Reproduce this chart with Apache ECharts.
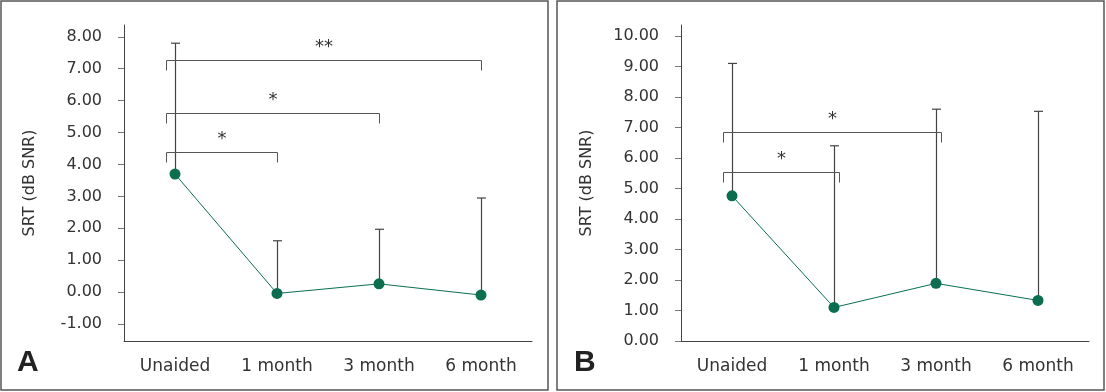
<!DOCTYPE html>
<html>
<head>
<meta charset="utf-8">
<script src="https://cdn.jsdelivr.net/npm/echarts@6/dist/echarts.min.js"></script>
<style>
  html, body { margin: 0; padding: 0; background: #fff; }
  #chart { width: 1106px; height: 392px; }
</style>
</head>
<body>
<div id="chart"></div>
<script>
// ---- data ----
const categories = ['Unaided', '1 month', '3 month', '6 month'];
const meanA  = [3.70, -0.04, 0.26, -0.09];
const upperA = [7.80, 1.61, 1.97, 2.95];
const meanB  = [4.76, 1.10, 1.89, 1.33];
const upperB = [9.10, 6.40, 7.60, 7.53];
const ticksA = [-1, 0, 1, 2, 3, 4, 5, 6, 7, 8];
const ticksB = [0, 1, 2, 3, 4, 5, 6, 7, 8, 9, 10];
// [fromCategory, toCategory, height, label]
const bracketsA = [[0, 1, 4.38, '*'], [0, 2, 5.60, '*'], [0, 3, 7.27, '**']];
const bracketsB = [[0, 1, 5.55, '*'], [0, 2, 6.85, '*']];
const panelLabels = ['A', 'B'];
const yName = 'SRT (dB SNR)';

// ---- styles ----
const FONT = 'DejaVu Sans';
const GREEN = '#0b6e4f';
const AXIS = '#444';
const TEXT = '#333';

const chart = echarts.init(document.getElementById('chart'), null, { renderer: 'canvas' });

function yAxisCfg(idx, min, max, ticks) {
  return {
    type: 'value', gridIndex: idx, min: min, max: max,
    name: yName, nameLocation: 'middle', nameGap: 86,
    nameTextStyle: { fontFamily: FONT, fontSize: 16, color: TEXT },
    axisLine: { show: true, lineStyle: { color: AXIS, width: 1 } },
    axisTick: { show: true, length: 6, customValues: ticks, lineStyle: { color: '#777' } },
    axisLabel: { customValues: ticks, margin: 22, fontFamily: FONT, fontSize: 16, color: TEXT,
      formatter: v => v.toFixed(2) },
    splitLine: { show: false }
  };
}
function xAxisCfg(idx) {
  return {
    type: 'category', gridIndex: idx, data: categories, boundaryGap: true,
    axisLine: { show: true, onZero: false, lineStyle: { color: AXIS, width: 1 } },
    axisTick: { show: false },
    axisLabel: { margin: 17, fontFamily: FONT, fontSize: 17, color: TEXT }
  };
}

function errorSeries(idx, mean, upper) {
  return {
    type: 'custom', xAxisIndex: idx, yAxisIndex: idx, z: 2,
    data: categories.map((c, i) => [i, mean[i], upper[i]]),
    renderItem: (params, api) => {
      const p0 = api.coord([api.value(0), api.value(1)]);
      const p1 = api.coord([api.value(0), api.value(2)]);
      const x = Math.round(p0[0]) + 0.5;
      return { type: 'group', children: [
        { type: 'line', shape: { x1: x, y1: p0[1], x2: x, y2: p1[1] }, style: { stroke: '#444', lineWidth: 1.2 } },
        { type: 'line', shape: { x1: x - 4.5, y1: p1[1], x2: x + 4.5, y2: p1[1] }, style: { stroke: '#444', lineWidth: 1.2 } }
      ]};
    }
  };
}

function bracketSeries(idx, brackets, rightOff) {
  return {
    type: 'custom', xAxisIndex: idx, yAxisIndex: idx, z: 3,
    data: brackets.map(b => [b[0], b[1], b[2], b[3]]),
    renderItem: (params, api) => {
      const b = brackets[params.dataIndex];
      const p1 = api.coord([b[0], b[2]]);
      const p2 = api.coord([b[1], b[2]]);
      const y = Math.round(p1[1]) + 0.5;
      const xl = Math.round(p1[0]) - 9 + 0.5;
      const xr = Math.round(p2[0]) + rightOff + 0.5;
      return { type: 'group', children: [
        { type: 'polyline', shape: { points: [[xl, y + 10], [xl, y], [xr, y], [xr, y + 10]] },
          style: { stroke: '#555', lineWidth: 1, fill: null } },
        { type: 'text', x: (xl + xr) / 2, y: y - 13,
          style: { text: b[3], fontFamily: FONT, fontSize: 18, fill: TEXT, align: 'center', verticalAlign: 'middle' } }
      ]};
    }
  };
}

function lineSeries(idx, mean) {
  return {
    type: 'line', xAxisIndex: idx, yAxisIndex: idx, z: 4, data: mean,
    symbol: 'circle', symbolSize: 11, showSymbol: true,
    lineStyle: { color: GREEN, width: 1 },
    itemStyle: { color: GREEN },
    emphasis: { disabled: true }, animation: false
  };
}

chart.setOption({
  animation: false,
  backgroundColor: '#fff',
  textStyle: { fontFamily: FONT },
  grid: [
    { left: 124, top: 25, width: 408, height: 316, containLabel: false },
    { left: 681, top: 25, width: 408, height: 316, containLabel: false }
  ],
  xAxis: [xAxisCfg(0), xAxisCfg(1)],
  yAxis: [yAxisCfg(0, -1.53, 8.37, ticksA), yAxisCfg(1, 0, 10.36, ticksB)],
  series: [
    errorSeries(0, meanA, upperA), bracketSeries(0, bracketsA, 0), lineSeries(0, meanA),
    errorSeries(1, meanB, upperB), bracketSeries(1, bracketsB, 5), lineSeries(1, meanB)
  ],
  graphic: [
    { type: 'rect', shape: { x: 1, y: 1, width: 547, height: 389 }, style: { fill: null, stroke: '#555', lineWidth: 1.5 }, silent: true },
    { type: 'rect', shape: { x: 557, y: 1, width: 547, height: 389 }, style: { fill: null, stroke: '#555', lineWidth: 1.5 }, silent: true },
    { type: 'text', left: 17, top: 348, style: { text: panelLabels[0], fontFamily: 'Liberation Sans', fontWeight: 'bold', fontSize: 30, fill: '#222' } },
    { type: 'text', left: 574, top: 348, style: { text: panelLabels[1], fontFamily: 'Liberation Sans', fontWeight: 'bold', fontSize: 30, fill: '#222' } }
  ]
});
</script>
</body>
</html>
